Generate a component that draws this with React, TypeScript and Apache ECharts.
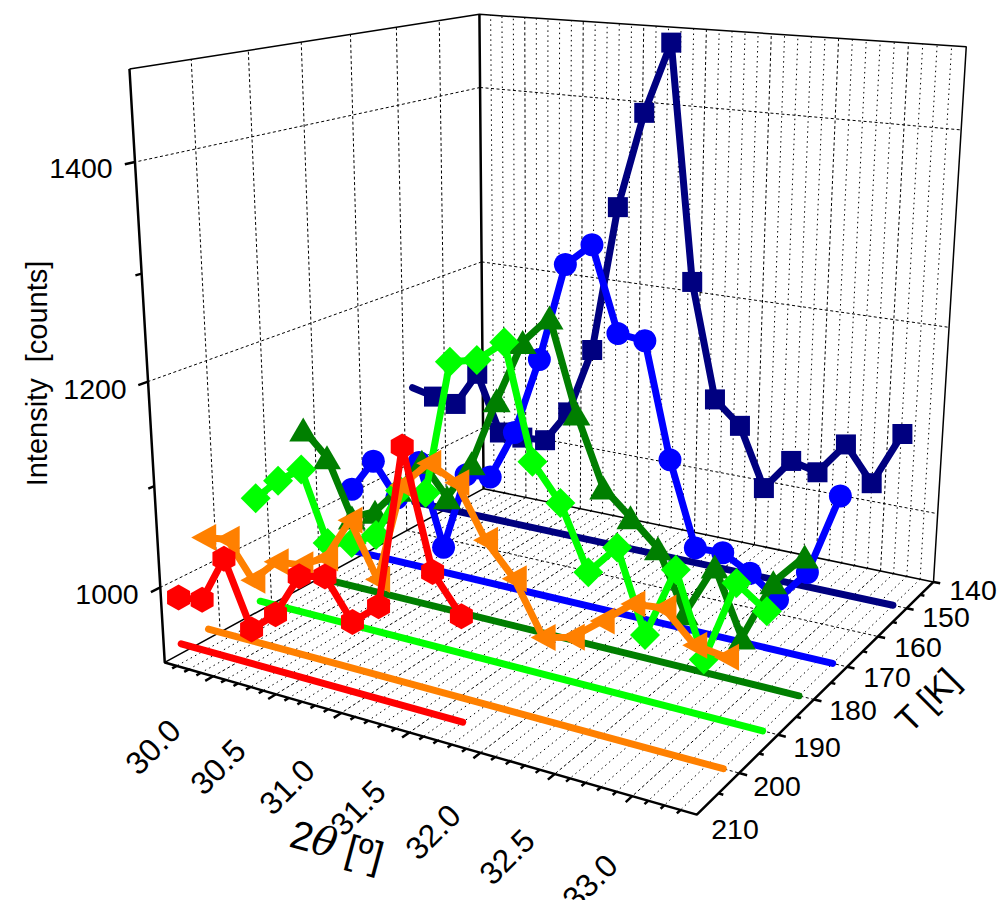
import React, { useEffect, useRef } from "react";
import * as echarts from "echarts";

// ---------- data ----------
const temperatures = [150, 170, 180, 190, 200, 205];
const navyTheta = [29.3, 29.5, 29.7, 29.9, 30.1, 30.3, 30.5, 30.7, 30.9, 31.1, 31.3, 31.5, 31.7, 31.9, 32.1, 32.3, 32.5, 32.7, 32.9, 33.1, 33.3];
const sharedTheta = [29.5, 29.7, 29.9, 30.1, 30.3, 30.5, 30.7, 30.9, 31.1, 31.3, 31.5, 31.7, 31.9, 32.1, 32.3, 32.5, 32.7, 32.9, 33.1, 33.3];
const redTheta = [29.5, 29.7, 29.9, 30.1, 30.3, 30.5, 30.7, 30.9, 31.1, 31.3, 31.5, 31.7];
const navyCounts = [1063, 1057, 1053, 1093, 1029, 1028, 1030, 1067, 1142, 1301, 1402, 1475, 1232, 1110, 1086, 1023, 1058, 1051, 1086, 1050, 1107];
const blueCounts = [995, 1032, 996, 1041, 952, 1038, 1041, 1094, 1175, 1275, 1298, 1214, 1211, 1096, 1011, 1012, 997, 976, 1010, 1092];
const darkGreenCounts = [1085, 1060, 1000, 1012, 1041, 1076, 1044, 1085, 1154, 1216, 1244, 1155, 1087, 1063, 1038, 979, 1032, 968, 1029, 1060];
const limeCounts = [1035, 1059, 1076, 1005, 1011, 1025, 1076, 1079, 1212, 1218, 1239, 1131, 1097, 1036, 1066, 988, 1057, 978, 1057, 1037];
const orangeCounts = [1020, 1024, 988, 1013, 1016, 1029, 1072, 1020, 1117, 1143, 1130, 1082, 1052, 1003, 1010, 1032, 1054, 1057, 1030, 1026];
const redCounts = [972, 976, 1024, 959, 981, 1025, 1031, 993, 1015, 1170, 1060, 1025];

const thetaTicks = ["30.0", "30.5", "31.0", "31.5", "32.0", "32.5", "33.0"];
const tempTicks = ["140", "150", "160", "170", "180", "190", "200", "210"];
const countTicks = ["1000", "1200", "1400"];
const countMinorTicks = [1100, 1300];

// ---------- axis ranges ----------
const TH_MIN = 29.6, TH_MAX = 33.4, T_MIN = 140, T_MAX = 210, I_MIN = 923.9, I_MAX = 1480.9;
const A = (t: number) => (t - TH_MIN) / (TH_MAX - TH_MIN);
const B = (t: number) => (t - T_MIN) / (T_MAX - T_MIN);
const C = (i: number) => (i - I_MIN) / (I_MAX - I_MIN);

// ---------- camera: fitted to where the box corners and ticks sit ----------
const anchors: number[][] = [
  [0, 1, 0, 163, 663], [1, 1, 0, 695, 816], [1, 0, 0, 933, 583], [0, 0, 0, 483, 488],
  [0, 1, 1, 129, 69], [0, 0, 1, 480, 15], [1, 0, 1, 966, 46],
  [A(30), 1, 0, 213, 677], [A(30.5), 1, 0, 277, 694], [A(31), 1, 0, 343, 712], [A(31.5), 1, 0, 411, 732],
  [A(32), 1, 0, 480, 753], [A(32.5), 1, 0, 555, 773], [A(33), 1, 0, 632, 796],
  [1, B(150), 0, 907, 608], [1, B(160), 0, 879, 636], [1, B(170), 0, 847, 667], [1, B(180), 0, 814, 699.5], [1, B(190), 0, 778, 735], [1, B(200), 0, 739, 773],
];
function solve(M: number[][], r: number[]) {
  const n = r.length;
  for (let i = 0; i < n; i++) {
    let p = i;
    for (let k = i + 1; k < n; k++) if (Math.abs(M[k][i]) > Math.abs(M[p][i])) p = k;
    [M[i], M[p]] = [M[p], M[i]];
    [r[i], r[p]] = [r[p], r[i]];
    for (let k = i + 1; k < n; k++) {
      const f = M[k][i] / M[i][i];
      for (let j = i; j < n; j++) M[k][j] -= f * M[i][j];
      r[k] -= f * r[i];
    }
  }
  const x = new Array(n).fill(0);
  for (let i = n - 1; i >= 0; i--) {
    let s = r[i];
    for (let j = i + 1; j < n; j++) s -= M[i][j] * x[j];
    x[i] = s / M[i][i];
  }
  return x;
}
function fitCamera() {
  const rows: number[][] = [], rhs: number[] = [];
  for (const [a, b, c, u0, v0] of anchors) {
    const u = u0 / 1000, v = v0 / 1000;
    rows.push([a, b, c, 1, 0, 0, 0, 0, -u * a, -u * b, -u * c]); rhs.push(u);
    rows.push([0, 0, 0, 0, a, b, c, 1, -v * a, -v * b, -v * c]); rhs.push(v);
  }
  const N = Array.from({ length: 11 }, (_, i) => Array.from({ length: 11 }, (_, j) => rows.reduce((s, r) => s + r[i] * r[j], 0)));
  const y = Array.from({ length: 11 }, (_, i) => rows.reduce((s, r, k) => s + r[i] * rhs[k], 0));
  return solve(N, y);
}
const P = fitCamera();
const raw = (a: number, b: number, c: number): [number, number] => {
  const w = P[8] * a + P[9] * b + P[10] * c + 1;
  return [(1000 * (P[0] * a + P[1] * b + P[2] * c + P[3])) / w, (1000 * (P[4] * a + P[5] * b + P[6] * c + P[7])) / w];
};
const project = (theta: number, temp: number, count: number) => raw(A(theta), B(temp), C(count));

// ---------- helpers ----------
const GAP: [string, string] = ["-", "-"];
type Seg = [number, number][];
const join = (segs: Seg[]) => {
  const out: any[] = [];
  segs.forEach((s) => { out.push(...s, GAP); });
  return out;
};
const range = (from: number, to: number, step: number) => {
  const n = Math.round((to - from) / step);
  return Array.from({ length: n + 1 }, (_, i) => +(from + i * step).toFixed(2));
};
const guide = (name: string, segs: Seg[], width: number, type: any, color = "#000") => ({
  type: "line", name, data: join(segs), symbol: "none", silent: true, clip: false, z: 1,
  connectNulls: false, lineStyle: { width, type, color, cap: "butt" },
});

const thetaMajors = range(30, 33, 0.5);
const thetaAll = range(29.7, 33.3, 0.1);
const thetaMinors = thetaAll.filter((t) => !thetaMajors.includes(t));
const tempMajors = range(150, 200, 10);
const countMajors = countTicks.map(Number);

const DASH = [3, 2.5];
const DOT = [1.5, 3.5];
const floorMajor: Seg[] = [
  ...thetaMajors.map((t) => [project(t, T_MIN, I_MIN), project(t, T_MAX, I_MIN)] as Seg),
  ...tempMajors.map((t) => [project(TH_MIN, t, I_MIN), project(TH_MAX, t, I_MIN)] as Seg),
];
const floorMinor: Seg[] = thetaMinors.map((t) => [project(t, T_MIN, I_MIN), project(t, T_MAX, I_MIN)] as Seg);
const backMajor: Seg[] = [
  ...thetaMajors.map((t) => [project(t, T_MIN, I_MIN), project(t, T_MIN, I_MAX)] as Seg),
  ...countMajors.map((i) => [project(TH_MIN, T_MIN, i), project(TH_MAX, T_MIN, i)] as Seg),
];
const backMinor: Seg[] = thetaMinors.map((t) => [project(t, T_MIN, I_MIN), project(t, T_MIN, I_MAX)] as Seg);
const leftMajor: Seg[] = [
  ...tempMajors.map((t) => [project(TH_MIN, t, I_MIN), project(TH_MIN, t, I_MAX)] as Seg),
  ...countMajors.map((i) => [project(TH_MIN, T_MIN, i), project(TH_MIN, T_MAX, i)] as Seg),
];
const frameThin: Seg[] = [
  [project(TH_MIN, T_MAX, I_MAX), project(TH_MIN, T_MIN, I_MAX), project(TH_MAX, T_MIN, I_MAX), project(TH_MAX, T_MIN, I_MIN)],
  [project(TH_MIN, T_MAX, I_MIN), project(TH_MIN, T_MIN, I_MIN), project(TH_MAX, T_MIN, I_MIN)],
];
const frameThick: Seg[] = [
  [project(TH_MIN, T_MAX, I_MAX), project(TH_MIN, T_MAX, I_MIN), project(TH_MAX, T_MAX, I_MIN), project(TH_MAX, T_MIN, I_MIN)],
  [project(TH_MIN, T_MIN, I_MAX), project(TH_MIN, T_MIN, I_MIN)],
];
const ticks: Seg[] = [
  ...thetaAll.map((t) => {
    const major = thetaMajors.includes(t);
    return [project(t, T_MAX, I_MIN), project(t, T_MAX + (major ? 1.4 : 0.8), I_MIN)] as Seg;
  }),
  ...range(145, 205, 5).concat([T_MIN]).map((t) => {
    const major = t % 10 === 0;
    return [project(TH_MAX, t, I_MIN), project(TH_MAX + (major ? 0.05 : 0.03), t, I_MIN)] as Seg;
  }),
  ...countMajors.map((i) => [project(TH_MIN, T_MAX, i), project(TH_MIN, T_MAX + 1.6, i)] as Seg),
  ...countMinorTicks.map((i) => [project(TH_MIN, T_MAX, i), project(TH_MIN, T_MAX + 1, i)] as Seg),
];

const HEX = "path://M0,-1 L0.866,-0.5 L0.866,0.5 L0,1 L-0.866,0.5 L-0.866,-0.5 Z";
const defs = [
  { name: "150 K", T: temperatures[0], th: navyTheta, v: navyCounts, color: "#000080", symbol: "rect", size: 20, rotate: 0, hideFirst: true },
  { name: "170 K", T: temperatures[1], th: sharedTheta, v: blueCounts, color: "#0000ff", symbol: "circle", size: 23, rotate: 0, hideFirst: false },
  { name: "180 K", T: temperatures[2], th: sharedTheta, v: darkGreenCounts, color: "#007f00", symbol: "triangle", size: [28, 24], rotate: 0, hideFirst: false },
  { name: "190 K", T: temperatures[3], th: sharedTheta, v: limeCounts, color: "#00ff00", symbol: "diamond", size: 30, rotate: 0, hideFirst: false },
  { name: "200 K", T: temperatures[4], th: sharedTheta, v: orangeCounts, color: "#ff8000", symbol: "triangle", size: [27, 25], rotate: 90, hideFirst: false },
  { name: "205 K", T: temperatures[5], th: redTheta, v: redCounts, color: "#ff0000", symbol: HEX, size: [23, 26], rotate: 0, hideFirst: false },
];
const dataSeries: any[] = [];
defs.forEach((d, k) => {
  dataSeries.push({
    type: "line", name: d.name + " base", symbol: "none", silent: true, clip: false, z: 2 + k * 2,
    data: [project(d.th[0], d.T, I_MIN), project(d.th[d.th.length - 1], d.T, I_MIN)],
    lineStyle: { width: 7, color: d.color, cap: "round" },
  });
  dataSeries.push({
    type: "line", name: d.name, silent: true, clip: false, z: 3 + k * 2, showSymbol: true, showAllSymbol: true,
    symbol: d.symbol, symbolSize: d.size, symbolRotate: d.rotate,
    data: d.v.map((v, i) => {
      const value = project(d.th[i], d.T, v);
      return d.hideFirst && i === 0 ? { value, symbol: "none" } : { value };
    }),
    lineStyle: { width: 7, color: d.color, cap: "round", join: "round" },
    itemStyle: { color: d.color },
  });
});

// ---------- label layout ----------
const FONT = "Liberation Sans, Arial, sans-serif";
const thetaLabelXY = [[153, 747], [218, 767], [287, 787], [358, 808], [433, 832], [507, 857], [590, 882]];
const tempLabelXY = [[973, 590], [946, 617], [918, 647], [887, 677], [853, 710], [817, 747], [777, 786], [735, 829]];
const countLabelXY = [[107, 594], [95, 389], [81, 167.5]];
const text = (t: string, [x, y]: number[], size: number, rotation = 0) => ({
  type: "text", x, y, rotation, silent: true, z: 100,
  style: { text: t, fontSize: size, fontFamily: FONT, fill: "#000", align: "center", verticalAlign: "middle" },
});

const graphics = [
  ...thetaTicks.map((t, i) => text(t, thetaLabelXY[i], 32, Math.PI / 4)),
  ...tempTicks.map((t, i) => text(t, tempLabelXY[i], 28.5)),
  ...countTicks.map((t, i) => text(t, countLabelXY[i], 28.5)),
  text("Intensity  [counts]", [37, 373.5], 29, Math.PI / 2),
  text("T [K]", [927, 700], 35, Math.PI / 4),
  {
    type: "text", x: 337, y: 845, rotation: -Math.PI / 12, silent: true, z: 100,
    style: {
      text: "{a|2}{b|θ}{a| [º]}", fill: "#000", align: "center", verticalAlign: "middle",
      rich: {
        a: { fontSize: 40, fontFamily: FONT, fill: "#000" },
        b: { fontSize: 40, fontFamily: "DejaVu Serif", fontStyle: "italic", fill: "#000" },
      },
    },
  },
];

export default function App() {
  const ref = useRef<HTMLDivElement>(null);
  useEffect(() => {
    const chart = echarts.init(ref.current!, undefined, { renderer: "svg" });
    chart.setOption({
      animation: false,
      grid: { left: 0, top: 0, right: 0, bottom: 0 },
      xAxis: { type: "value", min: 0, max: 999, show: false },
      yAxis: { type: "value", min: 0, max: 900, inverse: true, show: false },
      series: [
        guide("floor major", floorMajor, 1, DASH),
        guide("floor minor", floorMinor, 1, DOT),
        guide("back major", backMajor, 1, DASH),
        guide("back minor", backMinor, 1, DOT),
        guide("left major", leftMajor, 1, DASH),
        guide("frame", frameThin, 1.5, "solid"),
        guide("frame front", frameThick, 2.5, "solid"),
        guide("ticks", ticks, 2.5, "solid"),
        ...dataSeries,
      ],
      graphic: graphics,
    });
    return () => chart.dispose();
  }, []);
  return <div ref={ref} style={{ position: "absolute", left: 0, top: 0, width: 999, height: 900 }} />;
}
